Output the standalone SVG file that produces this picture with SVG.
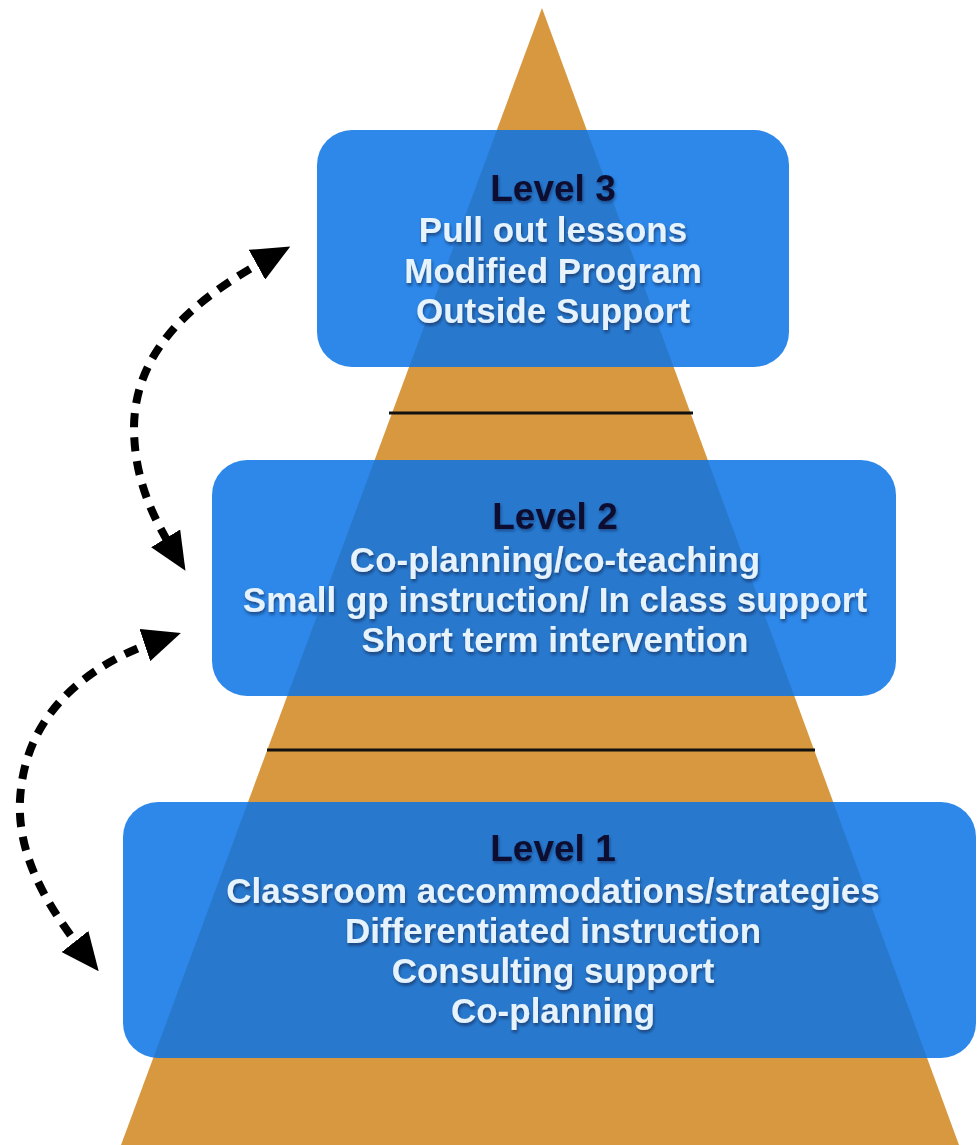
<svg xmlns="http://www.w3.org/2000/svg" width="977" height="1145" viewBox="0 0 977 1145">
  <defs>
    <style>
      .box { fill: rgb(10,116,229); fill-opacity: 0.86; }
      .title { font-family: "Liberation Sans", Arial, Helvetica, sans-serif; font-weight: bold; font-size: 37px; fill: #0b1030; text-anchor: middle; filter: url(#tshadow); }
      .body { font-family: "Liberation Sans", Arial, Helvetica, sans-serif; font-weight: bold; font-size: 35px; fill: #e6f3fd; text-anchor: middle; filter: url(#bshadow); }
      .sep { stroke: #111; stroke-width: 3; }
      .conn { fill: none; stroke: #000; stroke-width: 8; stroke-dasharray: 14 10; marker-start: url(#head); marker-end: url(#head); }
    </style>
    <filter id="bshadow" x="-10%" y="-30%" width="120%" height="160%">
      <feDropShadow dx="1" dy="2.5" stdDeviation="1.5" flood-color="#0a2040" flood-opacity="0.6"/>
    </filter>
    <filter id="tshadow" x="-10%" y="-30%" width="120%" height="160%">
      <feDropShadow dx="1" dy="2" stdDeviation="1.5" flood-color="#0a2a60" flood-opacity="0.6"/>
    </filter>
    <marker id="head" viewBox="0 0 38 34" refX="16" refY="17" markerWidth="38" markerHeight="34" markerUnits="userSpaceOnUse" orient="auto-start-reverse">
      <path d="M0,0 L38,17 L0,34 z" fill="#000"/>
    </marker>
  </defs>
  <rect x="0" y="0" width="977" height="1145" fill="#ffffff"/>

  <g id="pyramid">
    <polygon points="542,8 959,1145 121,1145" fill="#d7983f"/>
    <line class="sep" x1="389" y1="413" x2="693" y2="413"/>
    <line class="sep" x1="267" y1="750" x2="815" y2="750"/>
  </g>

  <g id="level3">
    <rect class="box" x="317" y="130" width="472" height="237" rx="35" ry="35"/>
    <text class="title" x="553" y="201">Level 3</text>
    <text class="body" x="553" y="242">Pull out lessons</text>
    <text class="body" x="553" y="283">Modified Program</text>
    <text class="body" x="553" y="323">Outside Support</text>
  </g>

  <g id="level2">
    <rect class="box" x="212" y="460" width="684" height="236" rx="35" ry="35"/>
    <text class="title" x="555" y="529">Level 2</text>
    <text class="body" x="555" y="572">Co-planning/co-teaching</text>
    <text class="body" x="555" y="612">Small gp instruction/ In class support</text>
    <text class="body" x="555" y="652">Short term intervention</text>
  </g>

  <g id="level1">
    <rect class="box" x="123" y="802" width="853" height="256" rx="35" ry="35"/>
    <text class="title" x="553" y="861">Level 1</text>
    <text class="body" x="553" y="903">Classroom accommodations/strategies</text>
    <text class="body" x="553" y="943">Differentiated instruction</text>
    <text class="body" x="553" y="983">Consulting support</text>
    <text class="body" x="553" y="1023">Co-planning</text>
  </g>

  <g id="connectors">
    <path class="conn" d="M271,257 C200,296 135,345 134,427 C134,478 152,516 174,552"/>
    <path class="conn" d="M160,640 C100,660 25,705 20,800 C17,858 50,910 85,954"/>
  </g>
</svg>
